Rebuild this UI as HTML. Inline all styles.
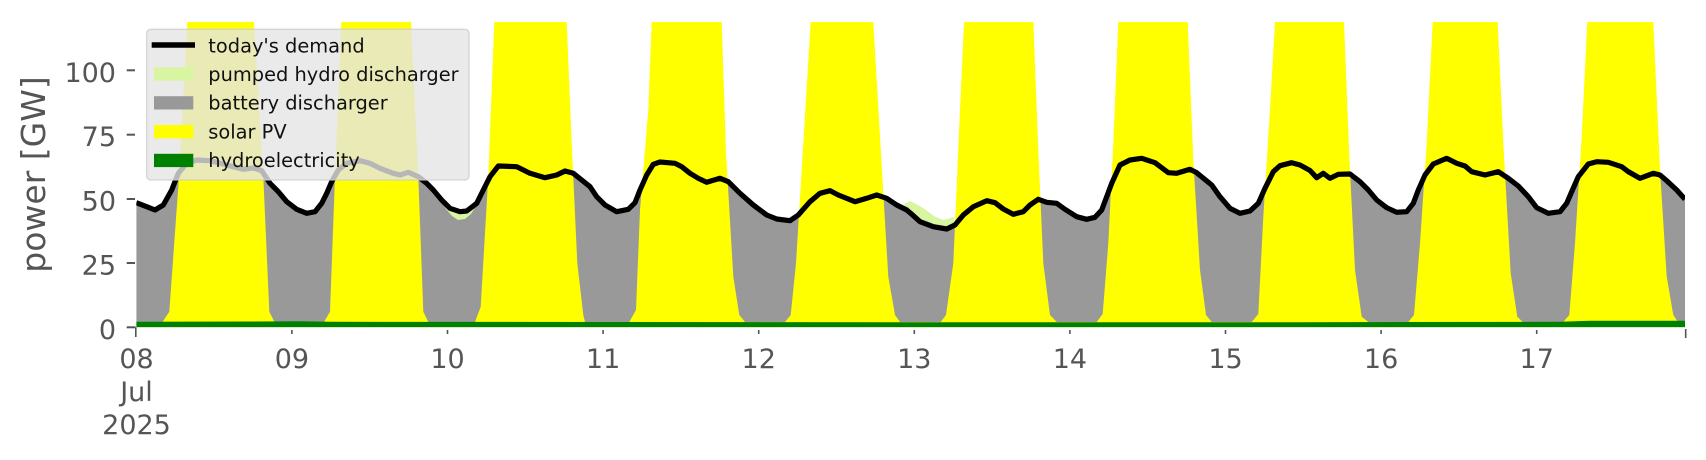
<!DOCTYPE html>
<html>
<head>
<meta charset="utf-8">
<style>
html,body{margin:0;padding:0;background:#fff;}
svg{display:block;}
text{font-family:"DejaVu Sans","Liberation Sans",sans-serif;}
</style>
</head>
<body>
<svg width="1706" height="460" viewBox="0 0 1706 460" xmlns="http://www.w3.org/2000/svg">
<defs>
<clipPath id="plot"><rect x="136.3" y="22" width="1548.7" height="305.3"/></clipPath>
</defs>
<rect x="0" y="0" width="1706" height="460" fill="#fff"/>
<g clip-path="url(#plot)">
<path fill="#999999" d="M136.3,327.3 L136.3,202.7 L146.7,206.7 L155,210 L163.3,205 L171.7,190 L178.3,173.3 L186.7,163.3 L196.7,160 L210,160.7 L223.3,164 L233.3,166.7 L243.3,169.3 L253.3,168 L261.7,170.7 L270,183.3 L278.3,191.7 L286.7,201.7 L296.7,209.3 L306.7,213.3 L315,211.7 L321.7,203.3 L326.7,193.3 L331.7,181.7 L338.3,170 L346.7,163.3 L360,160.7 L370,163.3 L380,168.3 L393.3,173.3 L400,175 L408.3,172.3 L418.3,176.7 L426.7,183.3 L433.3,190 L441.7,200 L450,208.3 L460,211.7 L466.7,211 L476.7,203.3 L483.3,190 L490,176.7 L498.3,166 L516.7,166.7 L530,173.3 L545,177.7 L556.7,175 L565,171 L573.3,173.3 L581.7,180 L590,186.7 L596.7,196.7 L605,205 L616.7,211.7 L628.3,209.3 L635,202.7 L640,190 L646.7,175 L653.3,164.3 L660,162 L675,163.3 L681.7,166.7 L690,173.3 L698.3,178.3 L706.7,182.3 L720,178.3 L728.3,181.7 L740,193.3 L753.3,205 L766.7,215 L776.7,219 L790,220.7 L798.3,215 L810,201.7 L820,193.3 L830,190.7 L838.3,195 L855,201.7 L866.7,198.3 L876.7,195 L886.7,198.3 L896.7,205 L906.7,210 L910,212.7 L920,221.7 L933.3,226.7 L946.7,229 L955,225 L963.3,215 L973.3,206.7 L986.7,200.7 L995,202.7 L1003.3,209 L1013.3,214.3 L1023.3,211.7 L1030,205 L1038.3,199.3 L1046.7,202.3 L1056.7,203.3 L1065,209.3 L1076.7,216.7 L1086.7,219.3 L1095,217.3 L1101.7,210 L1106.7,196.7 L1111.7,183.3 L1120,165 L1130,160 L1141.7,158.3 L1155,162.7 L1168.3,172.7 L1176.7,173.3 L1190,169.3 L1196.7,172.7 L1211.7,185 L1220,196.7 L1230,208.3 L1240,213.3 L1250,211 L1258.3,203.3 L1265,188.3 L1273.3,171.7 L1280,165.7 L1291.7,162.7 L1300,165 L1310,170.5 L1316.7,177.7 L1323.3,173.3 L1330,178.3 L1338.3,174.3 L1350,174 L1360,181.7 L1368.3,190 L1376.7,200 L1386.7,207.7 L1396.7,212.3 L1406.7,211.7 L1413.3,203.3 L1418.3,190 L1425,175 L1433.3,164 L1446.7,158.3 L1456.7,163.3 L1465,166 L1471.7,171.7 L1485,175 L1498.3,171.7 L1508.3,178.3 L1518.3,186 L1528.3,196.7 L1536.7,207.7 L1548.3,213.3 L1560,211.7 L1566.7,203.3 L1571.7,191.7 L1578.3,176.7 L1588.3,164 L1596.7,161.7 L1608.3,162.3 L1621.7,166.7 L1628.3,171.7 L1640,178.3 L1653.3,173.3 L1660,175 L1666.7,180.7 L1676.7,190 L1685,199.3 L1685,327.3 Z"/>
<path fill="#ffff00" d="M136.3,327.3 L136.3,322 L162.5,322 L169.3,311.7 L179,176.7 L187.3,22 L254,22 L263.3,176.7 L269.3,311.7 L274.5,322
L324,322 L330,311.7 L335,176.7 L341.3,22 L411,22 L418.3,176.7 L423.3,311.7 L428.3,322
L475,322 L480.7,306.7 L488.3,176.7 L494.3,22 L566.7,22 L571.7,143.3 L577.3,263.3 L583.3,315 L585,322
L629.3,322 L636,310 L640,210 L648.3,110 L651.7,22 L721.7,22 L726,153 L733.3,276.7 L739.3,315 L745,322
L785,322 L790.7,315 L796,263.3 L803.3,143.3 L810.7,22 L873.3,22 L883.3,193.3 L888.3,276.7 L895,315 L900,322
L940.7,322 L946,315 L953.3,263.3 L960,110 L964,22 L1033.3,22 L1038.3,150 L1043.3,263.3 L1050,315 L1056.7,322
L1096.7,322 L1102.7,314 L1108.3,243.3 L1113.3,143.3 L1118.3,22 L1187.7,22 L1193.3,160 L1200,270 L1206,315 L1211.7,322
L1251.7,322 L1258.3,314 L1263.3,216.7 L1270,110 L1275,22 L1344,22 L1349.3,156.7 L1355,270 L1361.7,316.7 L1368.3,322
L1408.3,322 L1414,315 L1420,243.3 L1426.7,143.3 L1432.7,22 L1497.7,22 L1503.3,143.3 L1510.7,273.3 L1517.3,316.7 L1522.7,322
L1563.3,322 L1569.3,315 L1575,243.3 L1581.7,136.7 L1587.3,22 L1653.3,22 L1660,170 L1666.7,276.7 L1673.3,315 L1678,322
L1685,322 L1685,327.3 Z"/>
<path fill="#d8f5a2" d="M441,200 L446,209 L452,216 L458,220 L465,219 L471,214 L476,206 L478,203 L476.7,203.3 L466.7,211 L460,211.7 L450,208.3 L441.7,200 Z"/>
<path fill="#d8f5a2" d="M904,204 L910,201 L915,203.3 L925,209.3 L935,216.7 L943.3,220 L953.3,217.3 L955,225 L946.7,229 L933.3,226.7 L920,221.7 L910,212.7 L906.7,210 Z"/>
<path fill="#008000" d="M136.3,327.3 L136.3,321.8 L250,321.5 L300,321.2 L330,321.8 L600,322 L900,322.2 L1300,322.2 L1560,321.8 L1590,320.8 L1685,320.8 L1685,327.3 Z"/>
<polyline fill="none" stroke="#000" stroke-width="5.2" stroke-linejoin="round" stroke-linecap="butt" points="136.3,202.7 146.7,206.7 155,210 163.3,205 171.7,190 178.3,173.3 186.7,163.3 196.7,160 210,160.7 223.3,164 233.3,166.7 243.3,169.3 253.3,168 261.7,170.7 270,183.3 278.3,191.7 286.7,201.7 296.7,209.3 306.7,213.3 315,211.7 321.7,203.3 326.7,193.3 331.7,181.7 338.3,170 346.7,163.3 360,160.7 370,163.3 380,168.3 393.3,173.3 400,175 408.3,172.3 418.3,176.7 426.7,183.3 433.3,190 441.7,200 450,208.3 460,211.7 466.7,211 476.7,203.3 483.3,190 490,176.7 498.3,166 516.7,166.7 530,173.3 545,177.7 556.7,175 565,171 573.3,173.3 581.7,180 590,186.7 596.7,196.7 605,205 616.7,211.7 628.3,209.3 635,202.7 640,190 646.7,175 653.3,164.3 660,162 675,163.3 681.7,166.7 690,173.3 698.3,178.3 706.7,182.3 720,178.3 728.3,181.7 740,193.3 753.3,205 766.7,215 776.7,219 790,220.7 798.3,215 810,201.7 820,193.3 830,190.7 838.3,195 855,201.7 866.7,198.3 876.7,195 886.7,198.3 896.7,205 906.7,210 910,212.7 920,221.7 933.3,226.7 946.7,229 955,225 963.3,215 973.3,206.7 986.7,200.7 995,202.7 1003.3,209 1013.3,214.3 1023.3,211.7 1030,205 1038.3,199.3 1046.7,202.3 1056.7,203.3 1065,209.3 1076.7,216.7 1086.7,219.3 1095,217.3 1101.7,210 1106.7,196.7 1111.7,183.3 1120,165 1130,160 1141.7,158.3 1155,162.7 1168.3,172.7 1176.7,173.3 1190,169.3 1196.7,172.7 1211.7,185 1220,196.7 1230,208.3 1240,213.3 1250,211 1258.3,203.3 1265,188.3 1273.3,171.7 1280,165.7 1291.7,162.7 1300,165 1310,170.5 1316.7,177.7 1323.3,173.3 1330,178.3 1338.3,174.3 1350,174 1360,181.7 1368.3,190 1376.7,200 1386.7,207.7 1396.7,212.3 1406.7,211.7 1413.3,203.3 1418.3,190 1425,175 1433.3,164 1446.7,158.3 1456.7,163.3 1465,166 1471.7,171.7 1485,175 1498.3,171.7 1508.3,178.3 1518.3,186 1528.3,196.7 1536.7,207.7 1548.3,213.3 1560,211.7 1566.7,203.3 1571.7,191.7 1578.3,176.7 1588.3,164 1596.7,161.7 1608.3,162.3 1621.7,166.7 1628.3,171.7 1640,178.3 1653.3,173.3 1660,175 1666.7,180.7 1676.7,190 1685,199.3"/>
</g>

<g stroke="#555" stroke-width="2">
<line x1="126.7" y1="327.3" x2="135.5" y2="327.3"/>
<line x1="126.7" y1="263" x2="135" y2="263"/>
<line x1="126.7" y1="199" x2="135" y2="199"/>
<line x1="126.7" y1="134.7" x2="135" y2="134.7"/>
<line x1="126.7" y1="70.3" x2="135" y2="70.3"/>
</g>
<g fill="#555" font-size="27" text-anchor="end">
<text x="116" y="338.8">0</text>
<text x="116" y="274.5">25</text>
<text x="116" y="210.5">50</text>
<text x="116" y="146.2">75</text>
<text x="116" y="81.8">100</text>
</g>
<text transform="translate(45,174.5) rotate(-90)" text-anchor="middle" fill="#555" font-size="33">power [GW]</text>

<g stroke="#555" stroke-width="1.6">
<line x1="135.8" y1="327.3" x2="135.8" y2="337"/>
<line x1="291.9" y1="330" x2="291.9" y2="334"/>
<line x1="447.5" y1="330" x2="447.5" y2="334"/>
<line x1="603.1" y1="330" x2="603.1" y2="334"/>
<line x1="758.7" y1="330" x2="758.7" y2="334"/>
<line x1="914.3" y1="330" x2="914.3" y2="334"/>
<line x1="1069.9" y1="330" x2="1069.9" y2="334"/>
<line x1="1225.5" y1="330" x2="1225.5" y2="334"/>
<line x1="1381.1" y1="330" x2="1381.1" y2="334"/>
<line x1="1536.7" y1="330" x2="1536.7" y2="334"/>
<line x1="1685.7" y1="329" x2="1685.7" y2="338"/>
</g>
<g fill="#555" font-size="27" text-anchor="middle">
<text x="136.5" y="368">08</text>
<text x="136.5" y="401">Jul</text>
<text x="136.5" y="434">2025</text>
<text x="291.9" y="368">09</text>
<text x="447.5" y="368">10</text>
<text x="603.1" y="368">11</text>
<text x="758.7" y="368">12</text>
<text x="914.3" y="368">13</text>
<text x="1069.9" y="368">14</text>
<text x="1225.5" y="368">15</text>
<text x="1381.1" y="368">16</text>
<text x="1536.7" y="368">17</text>
</g>

<rect x="146.7" y="29.3" width="322.3" height="150.7" rx="4" ry="4" fill="rgba(229,229,229,0.8)" stroke="rgba(204,204,204,0.8)" stroke-width="1.3"/>
<line x1="151.7" y1="45" x2="195" y2="45" stroke="#000" stroke-width="5.4"/>
<rect x="154" y="67.4" width="39.3" height="13.3" fill="#d8f5a2"/>
<rect x="154" y="96.2" width="39.3" height="13.3" fill="#999999"/>
<rect x="154" y="125" width="39.3" height="13.3" fill="#ffff00"/>
<rect x="154" y="153.8" width="39.3" height="13.3" fill="#008000"/>
<g fill="#111" font-size="19.4">
<text x="208.3" y="52.5">today's demand</text>
<text x="208.3" y="81">pumped hydro discharger</text>
<text x="208.3" y="109.7">battery discharger</text>
<text x="208.3" y="138.4">solar PV</text>
<text x="208.3" y="167">hydroelectricity</text>
</g>
</svg>
</body>
</html>
